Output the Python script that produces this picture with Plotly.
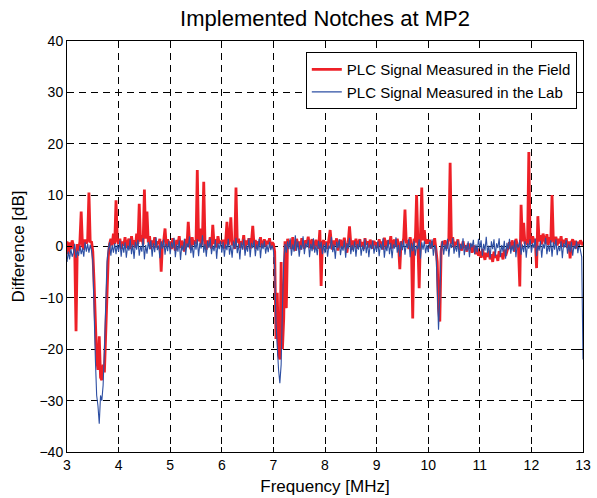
import numpy as np
import plotly.graph_objects as go

# Sweep grid: 3-13 MHz, 25 kHz spacing (401 samples)
freq_mhz = np.round(np.linspace(3.0, 13.0, 401), 3)

# Difference measured in the field [dB], one row per MHz
field_db = [
    # 3 MHz
    1.0, -1.5, 0.8, -0.5, 1.2, 0.3, -1.0, -16.5, 0.5, -0.8,
    1.0, 6.8, 0.2, -0.6, 1.4, 0.6, 1.2, 10.5, 0.8, 1.0,
    -1.0, -7.0, -16.0, -22.0, -24.0, -17.5, -25.5, -26.0, -23.0, -24.5,
    -17.0, -9.0, -2.0, 0.5, 1.5, 0.2, 2.5, 0.5, 9.0, 1.2,
    # 4 MHz
    0.5, 1.5, -0.5, 1.0, 0.2, 1.8, -0.3, 0.8, 1.5, -0.5,
    2.0, 0.3, 1.2, -0.2, 2.5, 0.5, 8.3, 1.0, 2.2, 0.4,
    11.1, 1.5, 6.8, 0.8, 2.0, -0.5, 1.2, 0.3, 1.8, -0.2,
    1.0, 0.5, 1.5, -4.9, 0.6, 1.2, 3.5, 0.0, 1.4, 0.3,
    # 5 MHz
    1.0, -0.5, 1.6, 0.2, -0.8, 1.3, 0.4, 2.0, -0.3, 1.1,
    0.5, -1.0, 1.5, 0.2, 4.8, 0.6, -0.5, 1.8, 0.3, 1.2,
    0.5, 14.9, 1.0, 3.5, 0.2, 1.5, 12.6, 0.4, -0.6, 1.2,
    0.0, 1.8, -0.4, 4.2, 0.5, 1.4, -0.2, 2.0, 0.6, 1.1,
    # 6 MHz
    0.5, 1.3, -0.4, 1.0, 4.8, 0.3, 1.5, 5.7, 0.2, 1.2,
    -0.5, 11.5, 0.8, 1.5, -0.3, 1.0, 0.4, 2.2, -0.6, 1.2,
    0.3, 1.6, -0.4, 0.9, 4.0, 0.2, 1.3, -0.5, 1.0, 0.4,
    1.8, -0.2, 0.7, 1.4, 0.0, 1.1, 0.5, 1.6, -0.3, 0.8,
    # 7 MHz
    0.5, -1.0, -18.0, -9.0, -21.0, -22.0, -3.0, -20.0, -14.0, 1.0,
    -12.0, 1.5, 0.3, 1.2, -0.5, 1.8, 0.4, -0.8, 1.5, 0.2,
    1.0, -0.6, 1.6, 0.3, -0.4, 1.2, 0.5, 1.9, -0.3, 0.8,
    1.4, -0.5, 0.6, 1.3, 0.2, -0.4, 3.2, -7.7, 0.8, 1.2,
    # 8 MHz
    0.3, 1.0, -0.5, 1.5, 3.2, 0.4, -0.6, 1.2, 0.2, 1.6,
    -0.8, 0.7, 1.3, -0.3, 0.9, 1.7, 0.1, -1.2, 0.8, 3.9,
    0.5, -0.6, 1.2, 0.3, 1.5, -0.4, 0.8, 1.4, 0.0, 0.9,
    -0.5, 1.6, 0.4, 1.0, -0.2, 1.3, 0.6, -0.4, 1.1, 0.3,
    # 9 MHz
    0.8, -0.3, 1.4, 0.2, 1.0, -0.6, 1.7, 0.4, -0.2, 1.2,
    0.5, 2.0, -0.4, 0.9, 1.3, 0.0, 1.5, 0.3, -4.4, 1.0,
    0.4, 1.6, 7.2, 0.6, 1.2, -0.5, 1.8, 0.2, -14.0, 1.5,
    0.8, 10.0, 1.0, -8.1, 2.0, 11.5, 1.2, 3.2, 0.5, 1.4,
    # 10 MHz
    0.6, 1.3, -0.4, 1.0, 0.2, 1.6, -0.5, -3.0, -12.0, -14.6,
    -1.0, 1.0, 0.3, 1.2, -0.4, 0.8, 1.5, 16.3, 0.5, 1.8,
    -0.2, 0.9, 0.3, 1.4, -0.6, 0.5, -0.8, 1.0, -0.3, 0.2,
    -1.0, 0.6, -0.5, 0.4, -1.2, 0.2, -0.8, -1.5, -0.3, -1.8,
    # 11 MHz
    -1.0, -2.2, -0.5, -1.8, -2.6, -1.2, -2.0, -0.8, -2.5, -1.5,
    -3.0, -1.0, -2.2, -1.6, -2.8, -0.9, -2.0, -1.3, -2.5, -0.6,
    -1.8, -1.0, -0.2, 0.8, -0.5, 1.2, 0.3, -1.0, 1.5, 0.2,
    -0.6, -7.8, 8.1, 1.0, 4.6, 0.5, 1.4, 0.3, 18.4, 1.2,
    # 12 MHz
    0.5, 2.0, 0.8, 1.5, -4.2, 5.9, 1.0, 2.2, 0.4, 2.5,
    1.2, 0.6, 2.4, 0.3, 1.8, 0.8, 10.0, 1.2, 0.5, 1.9,
    0.2, 1.5, 0.6, 2.0, 0.0, 1.3, 0.5, 1.6, -0.3, 1.0,
    -2.3, 0.8, 1.4, 0.2, 1.1, -0.4, 0.9, 0.3, 1.2, 0.5,
    # 13 MHz
    0.2,
]

# Difference measured in the lab [dB], one row per MHz
lab_db = [
    # 3 MHz
    -3.0, -1.0, -2.5, -0.5, -2.0, -1.2, 0.5, -2.2, -0.8, -1.8,
    0.2, -1.5, -0.3, -2.0, 0.8, -1.0, 0.5, -1.2, 0.3, -0.8,
    -3.0, -14.0, -22.0, -29.0, -31.0, -34.5, -29.0, -30.0, -27.0, -20.0,
    -11.0, -3.0, -0.5, 0.8, -1.8, 0.3, -1.2, 0.6, -1.5, 0.4,
    # 4 MHz
    -1.0, 1.2, -2.0, 0.5, -1.2, 0.8, -2.2, 0.2, -0.8, 1.5,
    -1.5, 0.4, -2.4, 0.9, -0.6, 1.3, -1.8, 0.1, -1.0, 1.6,
    -2.5, 0.3, -1.4, 0.9, -0.5, 1.2, -2.0, 0.6, -1.1, 1.8,
    -0.7, 0.2, -2.3, 1.0, -0.4, 1.4, -1.6, 0.5, -0.9, 1.1,
    # 5 MHz
    -1.5, 0.8, -0.3, 1.7, -2.1, 0.4, -1.0, 1.2, -2.6, 0.2,
    -0.8, 1.5, -1.7, 0.6, -0.2, 2.0, -1.3, 0.3, -2.2, 1.0,
    -0.6, 1.4, -1.9, 0.7, -0.4, 2.2, -1.2, 0.5, -2.0, 1.1,
    -0.3, 1.6, -1.5, 0.2, -0.9, 1.3, -2.4, 0.6, -0.5, 1.0,
    # 6 MHz
    -1.2, 0.9, -2.0, 0.4, -0.7, 1.5, -1.6, 0.3, -2.2, 1.0,
    -0.4, 1.7, -1.3, 0.5, -2.5, 0.8, -0.6, 1.4, -1.8, 0.2,
    -1.0, 1.6, -2.1, 0.7, -0.3, 1.2, -1.9, 0.4, -0.8, 1.5,
    -2.3, 0.6, -0.5, 1.1, -1.4, 0.3, -1.1, 0.9, -0.7, 0.2,
    # 7 MHz
    -0.8, -4.0, -15.0, -20.0, -24.0, -26.6, -23.0, -12.0, -3.0, 0.5,
    -1.2, 1.0, -0.5, 1.6, -1.8, 0.4, -1.0, 2.2, -0.8, 1.0,
    -2.0, 0.3, -0.6, 2.0, -1.5, 0.6, -0.2, 1.3, -2.1, 0.5,
    -0.9, 1.6, -1.2, 0.2, -1.7, 1.1, -0.4, 0.9, -1.5, 0.4,
    # 8 MHz
    -1.3, 0.8, -2.0, 0.2, -0.5, 1.9, -1.1, 0.4, -2.4, 0.9,
    -0.3, 1.4, -1.7, 0.1, -0.8, 1.2, -2.2, 0.6, -0.4, 1.7,
    -1.5, 0.3, -1.0, 1.0, -2.0, 0.5, -0.6, 1.3, -1.8, 0.2,
    -0.9, 1.5, -1.3, 0.7, -2.1, 0.4, -0.5, 1.2, -1.4, 0.3,
    # 9 MHz
    -1.0, 1.0, -1.9, 0.5, -0.6, 1.6, -2.2, 0.2, -0.9, 1.3,
    -1.5, 0.7, -2.3, 0.4, -0.4, 1.8, -1.2, 0.3, -2.0, 1.0,
    -0.7, 1.2, -1.6, 0.5, -0.3, 1.5, -2.1, 0.6, -0.9, 1.1,
    -1.8, 0.2, -0.5, 1.4, -2.4, 0.8, -0.6, 1.0, -1.3, 0.3,
    # 10 MHz
    -1.1, 0.9, -0.4, 1.4, -1.8, 0.3, -0.6, -8.0, -16.2, -10.0,
    -0.5, 1.1, -1.6, 0.4, -0.9, 1.5, -2.0, 0.6, -0.3, 1.7,
    -1.4, 0.2, -1.0, 1.2, -2.2, 0.5, -0.5, 1.6, -1.7, 0.3,
    -0.8, 1.0, -2.1, 0.7, -0.2, 1.3, -1.5, 0.4, -1.1, 1.5,
    # 11 MHz
    -0.4, 1.2, -1.8, 0.5, -0.8, 1.9, -1.3, 0.2, -2.3, 1.0,
    -0.5, 1.4, -1.9, 0.6, -0.3, 1.6, -2.0, 0.3, -1.0, 1.1,
    -2.4, 0.7, -0.6, 1.5, -1.4, 0.2, -0.9, 1.2, -2.1, 0.5,
    -0.2, 1.3, -1.6, 0.4, -1.1, 1.0, -2.2, 0.6, -0.4, 1.4,
    # 12 MHz
    -1.2, 0.6, -0.3, 1.5, -1.9, 0.2, -0.8, 1.1, -2.2, 0.5,
    -0.4, 1.7, -1.5, 0.3, -1.0, 1.2, -2.0, 0.8, -0.6, 1.4,
    -1.7, 0.1, -0.9, 1.0, -2.3, 0.6, -0.2, 1.3, -1.4, 0.4,
    -1.1, 0.9, -1.8, 0.2, -0.5, 1.1, -1.3, 0.5, -0.8, -2.0,
    # 13 MHz
    -22.0,
]

x_ticks = [3, 4, 5, 6, 7, 8, 9, 10, 11, 12, 13]
y_ticks = [-40, -30, -20, -10, 0, 10, 20, 30, 40]

FONT = "Liberation Sans, Arial, Helvetica, sans-serif"

fig = go.Figure()
fig.add_trace(go.Scatter(
    x=freq_mhz, y=field_db, mode="lines",
    name="PLC Signal Measured in the Field",
    line=dict(color="#EE2027", width=2.8),
))
fig.add_trace(go.Scatter(
    x=freq_mhz, y=lab_db, mode="lines",
    name="PLC Signal Measured in the Lab",
    line=dict(color="#2D4FA3", width=1.1),
))

axis_common = dict(
    showline=True, linecolor="black", linewidth=1, mirror="ticks",
    ticks="inside", ticklen=5, tickcolor="black", tickwidth=1,
    showgrid=True, gridcolor="black", gridwidth=0.6, griddash="7px,5px",
    zeroline=False, automargin=False,
    tickfont=dict(family=FONT, size=14, color="black"),
)

fig.update_xaxes(
    range=[3, 13], tickvals=x_ticks,
    title=dict(text="Frequency [MHz]", font=dict(family=FONT, size=17, color="black"), standoff=8),
    **axis_common,
)
fig.update_yaxes(
    range=[-40, 40], tickvals=y_ticks,
    title=dict(text="Difference [dB]", font=dict(family=FONT, size=17, color="black"), standoff=10),
    **axis_common,
)

fig.update_layout(
    width=597, height=498,
    margin=dict(l=67, r=14, t=41, b=46),
    paper_bgcolor="white", plot_bgcolor="white",
    title=dict(
        text="Implemented Notches at MP2",
        x=0.5, xref="paper", xanchor="center",
        y=1 - 18 / 498, yref="container", yanchor="middle",
        font=dict(family=FONT, size=22, color="black"),
    ),
    legend=dict(
        x=0.988, y=0.973, xanchor="right", yanchor="top",
        bgcolor="white", bordercolor="black", borderwidth=1,
        font=dict(family=FONT, size=15, color="black"),
        itemwidth=30, tracegroupgap=0,
    ),
    showlegend=True,
)

fig.write_html("out.html")
